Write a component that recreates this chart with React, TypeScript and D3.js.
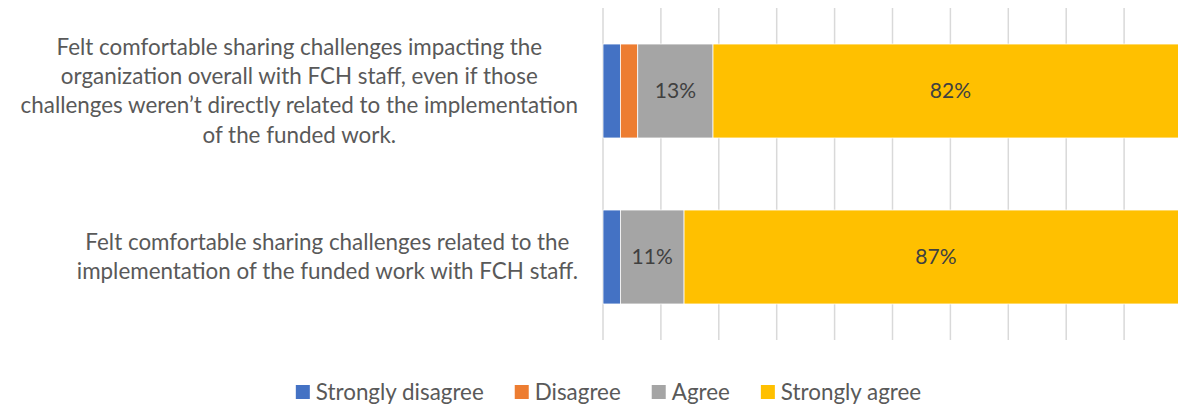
import React, { useEffect, useRef } from "react";
import * as d3 from "d3";

const categories = [
  "Felt comfortable sharing challenges impacting the organization overall with FCH staff, even if those challenges weren’t directly related to the implementation of the funded work.",
  "Felt comfortable sharing challenges related to the implementation of the funded work with FCH staff.",
];
const categoryLines = [
  [
    "Felt comfortable sharing challenges impacting the",
    "organization overall with FCH staff, even if those",
    "challenges weren’t directly related to the implementation",
    "of the funded work.",
  ],
  [
    "Felt comfortable sharing challenges related to the",
    "implementation of the funded work with FCH staff.",
  ],
];
const seriesNames = ["Strongly disagree", "Disagree", "Agree", "Strongly agree"];
const seriesColors = ["#4472C4", "#ED7D31", "#A5A5A5", "#FFC000"];
const stronglyDisagree = [0.03, 0.03];
const disagree = [0.03, 0];
const agree = [0.13, 0.11];
const stronglyAgree = [0.82, 0.87];
const showLabel = [false, false, true, true];
const gridTicks = d3.range(0, 11).map((i) => i / 10);

const W = 1178;
const H = 407;
const FONT = "Lato, 'Open Sans', sans-serif";

export default function App() {
  const ref = useRef<SVGSVGElement>(null);

  useEffect(() => {
    const svg = d3.select(ref.current);
    svg.selectAll("*").remove();

    const x = d3.scaleLinear().domain([0, 1]).range([603, 1182]);
    const y = d3
      .scaleBand<string>()
      .domain(categories)
      .range([8, 340])
      .paddingInner(0.434)
      .paddingOuter(0.217);

    // gridlines
    svg
      .append("g")
      .selectAll("line")
      .data(gridTicks)
      .join("line")
      .attr("x1", (d) => x(d))
      .attr("x2", (d) => x(d))
      .attr("y1", 8)
      .attr("y2", 340)
      .attr("stroke", "#D9D9D9")
      .attr("stroke-width", 1.5);

    const table = categories.map((c, i) => ({
      cat: c,
      values: [stronglyDisagree[i], disagree[i], agree[i], stronglyAgree[i]],
    }));

    const segs: { cat: string; s: number; x0: number; x1: number; v: number }[] = [];
    table.forEach((row) => {
      let acc = 0;
      row.values.forEach((v, s) => {
        segs.push({ cat: row.cat, s, x0: acc, x1: acc + v, v });
        acc += v;
      });
    });

    svg
      .append("g")
      .selectAll("rect")
      .data(segs.filter((d) => d.v > 0))
      .join("rect")
      .attr("x", (d) => x(d.x0))
      .attr("width", (d) => x(d.x1) - x(d.x0))
      .attr("y", (d) => y(d.cat)!)
      .attr("height", y.bandwidth())
      .attr("fill", (d) => seriesColors[d.s])
      .attr("stroke", "#ffffff")
      .attr("stroke-width", 0.75);

    svg
      .append("g")
      .selectAll("text")
      .data(segs.filter((d) => d.v > 0 && showLabel[d.s]))
      .join("text")
      .attr("x", (d) => (x(d.x0) + x(d.x1)) / 2)
      .attr("y", (d) => y(d.cat)! + y.bandwidth() / 2)
      .attr("dy", "0.35em")
      .attr("text-anchor", "middle")
      .attr("font-family", FONT)
      .attr("font-size", 21)
      .attr("fill", "#404040")
      .text((d) => d3.format(".0%")(d.v));

    // category labels
    const lineH = 29.3;
    const rightEdge = 578;
    categories.forEach((c, i) => {
      const lines = categoryLines[i];
      const g = svg.append("g");
      const cy = y(c)! + y.bandwidth() / 2;
      const texts = g
        .selectAll("text")
        .data(lines)
        .join("text")
        .attr("y", (_, j) => cy + (j - (lines.length - 1) / 2) * lineH)
        .attr("dy", "0.35em")
        .attr("text-anchor", "middle")
        .attr("font-family", FONT)
        .attr("font-size", 22.4)
        .attr("fill", "#595959")
        .text((d) => d);
      let maxW = 0;
      texts.each(function () {
        maxW = Math.max(maxW, (this as SVGTextElement).getComputedTextLength());
      });
      texts.attr("x", rightEdge - maxW / 2);
    });

    // legend
    const sq = 14;
    const lg = svg.append("g");
    const items = lg
      .selectAll("g")
      .data(seriesNames)
      .join("g");
    items
      .append("rect")
      .attr("width", sq)
      .attr("height", sq)
      .attr("y", 385)
      .attr("fill", (_, i) => seriesColors[i]);
    items
      .append("text")
      .attr("x", sq + 6)
      .attr("y", 392)
      .attr("dy", "0.35em")
      .attr("font-family", FONT)
      .attr("font-size", 22.4)
      .attr("fill", "#595959")
      .text((d) => d);
    const widths: number[] = [];
    items.each(function () {
      widths.push((this as SVGGElement).querySelector("text")!.getComputedTextLength() + sq + 6);
    });
    const gap = 31;
    const total = d3.sum(widths) + gap * (widths.length - 1);
    let cx = 608.5 - total / 2;
    items.each(function (_, i) {
      d3.select(this).attr("transform", `translate(${cx},0)`);
      cx += widths[i] + gap;
    });
  }, []);

  return (
    <svg
      ref={ref}
      width={W}
      height={H}
      style={{ position: "absolute", left: 0, top: 0, background: "#fff" }}
    />
  );
}
